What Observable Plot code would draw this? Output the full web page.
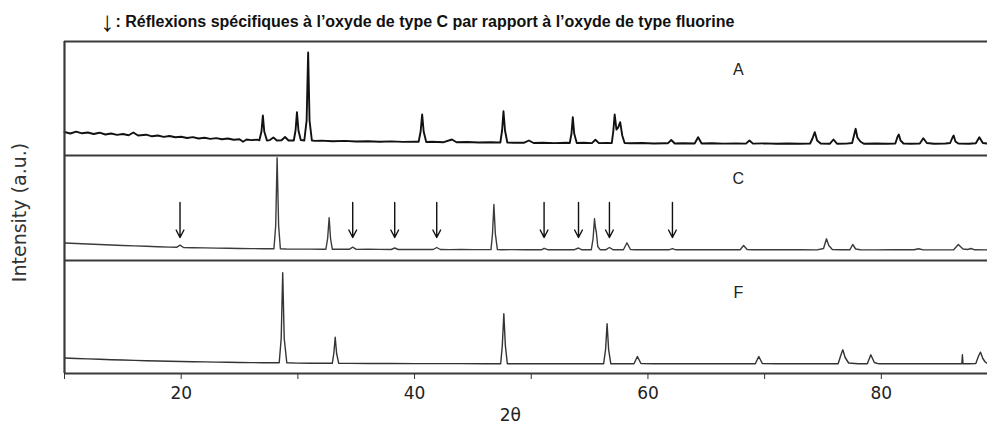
<!DOCTYPE html>
<html>
<head>
<meta charset="utf-8">
<script src="https://cdn.jsdelivr.net/npm/d3@7"></script>
<script src="https://cdn.jsdelivr.net/npm/@observablehq/plot@0.6"></script>
<style>
  html, body { margin: 0; padding: 0; background: #fff; overflow: hidden; }
  #chart svg { display: block; }
</style>
</head>
<body>
<div id="chart"></div>
<script>
// ---------- DATA (2θ in degrees, intensity in a.u. above each panel's floor) ----------
const traceA = [
  [10.0,23.5],[10.5,22],[11,23.8],[11.5,22.2],[12,23],[12.5,21.5],[13,22.8],[13.5,21],[14,22],[14.5,20.6],
  [15,21.5],[15.5,20.2],[15.9,23],[16.3,20],[17,20.8],[17.5,19.2],[18,20],[18.5,18.6],[19,19.5],[19.5,18.2],
  [20,18.8],[20.5,17.5],[21,18.4],[21.5,17],[22,17.8],[22.5,16.6],[23,17.4],[23.5,16.2],[24,17],[24.5,15.8],
  [25,16.2],[25.3,13.8],[25.6,16],[26,15.4],[26.5,15.8],
  [26.7,15.2],[26.88,24],[27.0,40],[27.12,24],[27.35,15],
  [27.6,15.4],[27.9,18],[28.2,15],[28.6,15.3],[28.9,18.5],[29.2,15],
  [29.65,15],[29.8,25],[29.92,43.3],[30.05,25],[30.25,15.5],
  [30.55,15],[30.75,35],[30.88,103],[31.0,35],[31.2,15],
  [31.5,14.6],[32,14.9],[33,14.2],[34,14.6],[35,14],[36,14.3],[37,13.8],[38,14.1],[39,13.6],[40,13.9],
  [40.35,13.7],[40.52,24],[40.65,41],[40.78,24],[41.0,13.5],
  [41.5,13.8],[42.5,13.3],[43.2,16],[43.6,13.3],[44.5,13.5],[45.5,13],[46.5,13.3],[47.2,13],
  [47.35,13],[47.5,25],[47.62,44.3],[47.75,25],[47.95,13],
  [48.5,12.7],[49.4,12.8],[49.8,15],[50.2,12.5],[51,12.8],[52,12.4],[53,12.7],
  [53.3,12.5],[53.45,22],[53.56,38.3],[53.68,22],[53.9,12.5],
  [54.5,12.7],[55.2,12.4],[55.5,15.7],[55.8,12.4],[56.5,12.6],
  [56.9,12.4],[57.03,24],[57.15,41],[57.3,26],[57.45,28],[57.62,33.3],[57.8,20],[58.0,12.5],
  [58.5,12.3],[59.5,12.5],[60.5,12],[61.5,12.3],[61.7,12.1],[62.0,15.5],[62.3,12],[63,12.3],[64.0,12],
  [64.3,18.3],[64.6,12],[65.5,12.2],[66.5,11.9],[67.5,12.1],[68.4,11.9],[68.7,15],[69.0,11.9],[70,12.1],
  [71,11.8],[72,12],[73,11.7],[73.9,12],[74.1,17],[74.3,23.3],[74.5,15],[74.8,12],[75.6,11.8],[75.9,16],
  [76.2,11.8],[77,11.9],[77.5,12.5],[77.7,22],[77.8,26.7],[77.95,18],[78.2,14],[78.5,11.8],[79.5,12],
  [80.5,11.7],[81.2,12],[81.4,19],[81.5,21],[81.65,15],[81.9,12],[82.5,11.8],[83.3,12],[83.6,17.3],
  [83.9,12.5],[84.5,11.8],[85.5,12],[85.9,12.5],[86.1,18],[86.2,20],[86.35,14],[86.6,12],[87.5,11.7],
  [88.1,12.3],[88.4,18.3],[88.7,12.5],[89.1,12]
];
const traceC = [
  [10,17.5],[11,17],[12,16.5],[13,16],[14,15.5],[15,15],[16,14.6],[17,14.2],[18,13.8],[19,13.4],
  [19.6,13.2],[19.9,15.3],[20.2,13],[21,12.8],[22,12.6],[23,12.4],[24,12.2],[25,12],[26,11.9],[27,11.8],[27.8,11.7],
  [27.95,11.7],[28.1,35],[28.22,102.7],[28.35,35],[28.5,11.7],
  [29,11.5],[30,11.4],[31,11.4],[32,11.3],[32.4,11.3],
  [32.55,22],[32.68,42.7],[32.8,22],[32.95,11.3],
  [33.5,11.2],[34.4,11.2],[34.7,13.3],[35.0,11.1],[36,11.2],[37,11.1],[38.0,11],[38.3,12.5],[38.6,11],
  [39.5,11],[40.5,11],[41.6,11],[41.9,13],[42.2,11],[43,10.9],[44,11],[45,10.9],[46,10.9],[46.55,10.9],
  [46.68,27],[46.8,56],[46.92,27],[47.1,10.9],
  [47.5,10.8],[48.5,10.9],[49.5,10.8],[50.5,10.8],[50.9,10.8],[51.1,12.2],[51.4,10.8],[52.5,10.8],
  [53.7,10.8],[54.05,12.5],[54.3,10.8],[55.15,10.8],
  [55.3,22],[55.42,41.7],[55.5,33],[55.58,28],[55.7,14],[55.9,10.8],
  [56.4,10.8],[56.7,13],[57.0,10.8],[57.9,10.8],[58.2,17.7],[58.5,11],[59,10.8],[60,10.7],[61,10.8],
  [61.8,10.7],[62.1,11.8],[62.4,10.7],[63.5,10.7],[65,10.8],[66.5,10.7],[67.9,10.7],[68.2,15],[68.5,11],
  [69,10.7],[70,10.7],[71.5,10.7],[73,10.8],[74.5,10.6],[75.05,12],[75.3,21.7],[75.5,15],[75.8,11],
  [76.5,10.7],[77.3,10.7],[77.55,16],[77.8,11.5],[78.2,10.7],[79.5,10.6],[81,10.7],[82.8,10.7],
  [83.2,11.8],[83.6,10.6],[85,10.6],[86.2,10.7],[86.6,16],[87.0,11.5],[87.4,11],[87.7,12],[88.0,10.7],[89.1,10.6]
];
const traceF = [
  [10,15.5],[11,15],[12,14.6],[13,14.2],[14,13.8],[15,13.5],[16,13.1],[17,12.8],[18,12.5],[19,12.2],
  [20,12],[21,11.8],[22,11.6],[23,11.4],[24,11.2],[25,11],[26,10.9],[27,10.8],[28,10.7],[28.4,10.7],
  [28.57,35],[28.7,100.7],[28.83,35],[29.05,10.7],
  [30,10.4],[31,10.3],[32,10.2],[32.95,10.2],
  [33.08,20],[33.2,36.3],[33.32,20],[33.5,10.2],
  [34.5,10.1],[36,10],[38,10],[40,9.9],[42,9.9],[44,9.9],[46,9.8],[47.38,9.8],
  [47.52,28],[47.65,59.7],[47.78,28],[47.95,9.8],
  [49,9.8],[51,9.7],[53,9.7],[55,9.7],[56.2,9.7],
  [56.37,24],[56.5,49.7],[56.63,24],[56.82,9.7],
  [57.8,9.7],[58.8,9.7],[59.1,17],[59.4,10],[60.5,9.7],[62,9.7],[64,9.7],[66,9.7],[68,9.7],[69.2,9.7],
  [69.5,17],[69.8,10],[71,9.7],[73,9.7],[75,9.7],[76.3,9.7],[76.55,19],[76.7,23.7],[76.9,16],[77.2,10.5],
  [78,9.7],[78.8,9.7],[79.1,18.7],[79.4,11],[79.8,9.7],[81,9.7],[83,9.7],[85,9.7],[86.9,9.7],[86.95,18.7],
  [87.0,9.7],[87.5,9.7],[88.1,10],[88.35,18],[88.5,21.3],[88.7,15],[88.9,11.5],[89.1,10]
];
const arrowsC = [19.9, 34.7, 38.3, 41.9, 51.1, 54.05, 56.7, 62.1];   // C-type specific reflections
const panelNames = ["A", "C", "F"];
const xTicks = [10, 20, 30, 40, 50, 60, 70, 80];
const xTickLabels = [20, 40, 60, 80];
const titleText = ": Réflexions spécifiques à l’oxyde de type C par rapport à l’oxyde de type fluorine";
const yLabel = "Intensity (a.u.)";
const xLabel = "2θ";

// ---------- LAYOUT ----------
const W = 987, H = 428;
const offsets = {A: 218, C: 113, F: 0};   // floor of each stacked panel
const panelTop = 332;
const labelRise = {A: 86, C: 82, F: 81};
const arrowTop = 58, arrowBottom = 23;

const rows = (arr, p) => arr.map(([x, v]) => ({x, y: offsets[p] + v, panel: p}));
const rowsA = rows(traceA, "A"), rowsC = rows(traceC, "C"), rowsF = rows(traceF, "F");
const arrowRows = arrowsC.map(x => ({x, y1: offsets.C + arrowTop, y2: offsets.C + arrowBottom}));
const labelRows = panelNames.map(p => ({p, x: 67.75, y: offsets[p] + labelRise[p]}));

const chart = Plot.plot({
  width: W, height: H,
  marginLeft: 64, marginRight: 0, marginTop: 41, marginBottom: 55,
  x: {domain: [10, 89.1], axis: null},
  y: {domain: [0, panelTop], axis: null},
  style: {background: "#fff", fontFamily: "'DejaVu Sans', sans-serif", overflow: "visible"},
  marks: [
    Plot.line(rowsA, {x: "x", y: "y", stroke: "#111", strokeWidth: 1.9, strokeLinejoin: "round"}),
    Plot.line(rowsC, {x: "x", y: "y", stroke: "#3c3c3c", strokeWidth: 1.4, strokeLinejoin: "round"}),
    Plot.line(rowsF, {x: "x", y: "y", stroke: "#333", strokeWidth: 1.4, strokeLinejoin: "round"}),
    Plot.arrow(arrowRows, {x1: "x", x2: "x", y1: "y1", y2: "y2", stroke: "#111", strokeWidth: 1.4, headLength: 9, headAngle: 55}),
    Plot.ruleY([0, offsets.C, offsets.A, panelTop], {stroke: "#3a3a3a", strokeWidth: 2}),
    Plot.ruleX([10], {stroke: "#3a3a3a", strokeWidth: 2.2}),
    Plot.axisX(xTicks, {label: null, tickSize: 6, tickPadding: 7, fontSize: 17, fill: "#222", stroke: "#333",
      tickFormat: d => xTickLabels.includes(d) ? String(d) : ""}),
    Plot.text([xLabel], {x: 48.2, frameAnchor: "bottom", lineAnchor: "middle", dy: 42, fontSize: 17, fill: "#222"}),
    Plot.text([yLabel], {frameAnchor: "left", textAnchor: "middle", lineAnchor: "middle", dx: -45, dy: 5, rotate: -90,
      fontSize: 19, fill: "#333", ariaLabel: "ylabel"}),
    Plot.text(labelRows, {x: "x", y: "y", text: "p", fontSize: 16, fill: "#222", fontFamily: "'Liberation Sans', Arial, sans-serif"}),
    Plot.text(["↓"], {frameAnchor: "top-left", textAnchor: "middle", lineAnchor: "middle", dx: 43, dy: -19, fontSize: 28,
      fontWeight: 300, fill: "#111", fontFamily: "'Liberation Sans', 'DejaVu Sans', sans-serif", ariaLabel: "titlearrow"}),
    Plot.text([titleText], {frameAnchor: "top-left", textAnchor: "start", lineAnchor: "middle", dx: 51, dy: -20, fontSize: 16,
      fontWeight: "bold", fill: "#111", fontFamily: "'Liberation Sans Narrow', 'Liberation Sans', Arial, sans-serif", ariaLabel: "title"})
  ]
});
document.getElementById("chart").appendChild(chart);
const svg = d3.select(chart);
svg.select('g[aria-label="title"] text').attr("textLength", 684).attr("lengthAdjust", "spacingAndGlyphs");
svg.select('g[aria-label="ylabel"] text').attr("textLength", 139).attr("lengthAdjust", "spacingAndGlyphs");
</script>
</body>
</html>
